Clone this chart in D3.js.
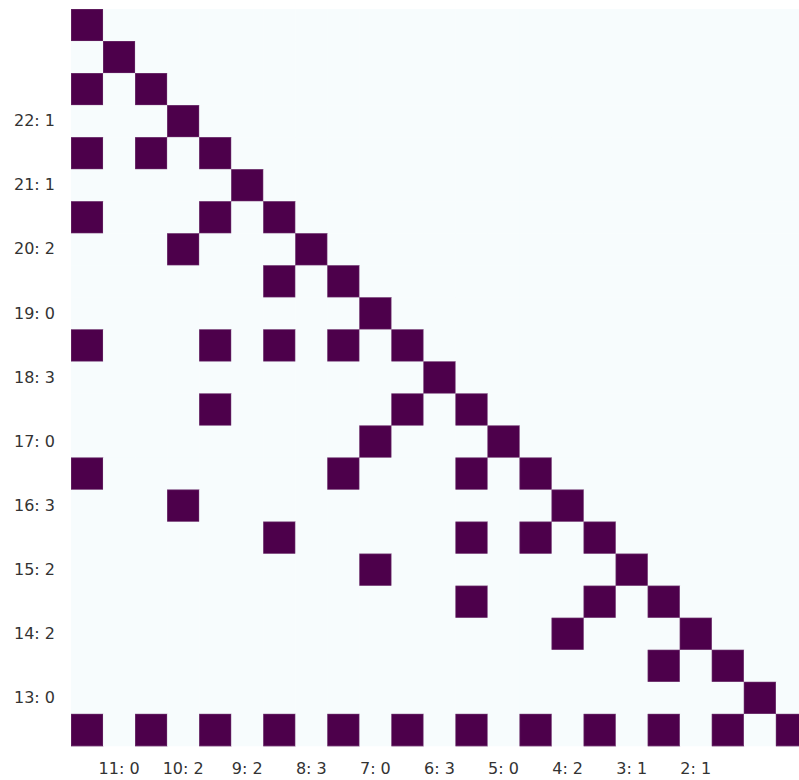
<!DOCTYPE html>
<html>
<head>
<meta charset="utf-8">
<script src="https://cdn.jsdelivr.net/npm/d3@7"></script>
<style>
  html, body { margin: 0; padding: 0; background: #ffffff; overflow: hidden; }
  svg { display: block; }
</style>
</head>
<body>
<svg id="chart" width="799" height="780"></svg>
<script>
// ---- data ----
const nRows = 23;
const nCols = 23;
// for each row (top to bottom): columns whose value is 1
const activeCols = [
  [0],
  [1],
  [0, 2],
  [3],
  [0, 2, 4],
  [5],
  [0, 4, 6],
  [3, 7],
  [6, 8],
  [9],
  [0, 4, 6, 8, 10],
  [11],
  [4, 10, 12],
  [9, 13],
  [0, 8, 12, 14],
  [3, 15],
  [6, 12, 14, 16],
  [9, 17],
  [12, 16, 18],
  [15, 19],
  [18, 20],
  [21],
  [0, 2, 4, 6, 8, 10, 12, 14, 16, 18, 20, 22]
];
const yTickRows   = [3, 5, 7, 9, 11, 13, 15, 17, 19, 21];
const yTickLabels = ["22: 1", "21: 1", "20: 2", "19: 0", "18: 3", "17: 0", "16: 3", "15: 2", "14: 2", "13: 0"];
const xTickCols   = [1, 3, 5, 7, 9, 11, 13, 15, 17, 19];
const xTickLabels = ["11: 0", "10: 2", "9: 2", "8: 3", "7: 0", "6: 3", "5: 0", "4: 2", "3: 1", "2: 1"];

// build matrix
const cells = [];
for (let r = 0; r < nRows; r++) {
  for (let c = 0; c < nCols; c++) {
    cells.push({ r, c, v: activeCols[r].includes(c) ? 1 : 0 });
  }
}

// ---- layout ----
const gridLeft = 71, gridTop = 9, step = 32.04;
const svg = d3.select("#chart");
const x = d3.scaleBand().domain(d3.range(nCols)).range([gridLeft, gridLeft + step * nCols]).paddingInner(0).paddingOuter(0);
const y = d3.scaleBand().domain(d3.range(nRows)).range([gridTop, gridTop + step * nRows]).paddingInner(0).paddingOuter(0);
const color = d3.scaleSequential(d3.interpolateBuPu).domain([0, 1]);

svg.append("g").selectAll("rect")
  .data(cells)
  .join("rect")
  .attr("x", d => x(d.c))
  .attr("y", d => y(d.r))
  .attr("width", x.bandwidth() + 0.4)
  .attr("height", y.bandwidth() + 0.4)
  .attr("fill", d => color(d.v));

// subtle lighter edge on filled cells, like the antialiased reference
svg.append("g").selectAll("rect")
  .data(cells.filter(d => d.v === 1))
  .join("rect")
  .attr("x", d => x(d.c) + 0.3)
  .attr("y", d => y(d.r) + 0.3)
  .attr("width", x.bandwidth() - 0.6)
  .attr("height", y.bandwidth() - 0.6)
  .attr("fill", "none")
  .attr("stroke", "#8a5a8a")
  .attr("stroke-opacity", 0.5)
  .attr("stroke-width", 0.6);

// ---- axes ----
const yAxis = d3.axisLeft(y)
  .tickValues(yTickRows)
  .tickFormat(d => yTickLabels[yTickRows.indexOf(d)])
  .tickSize(0)
  .tickPadding(16);
const gy = svg.append("g").attr("transform", `translate(${gridLeft},0)`).call(yAxis);

const xAxis = d3.axisBottom(x)
  .tickValues(xTickCols)
  .tickFormat(d => xTickLabels[xTickCols.indexOf(d)])
  .tickSize(0)
  .tickPadding(17);
const gx = svg.append("g").attr("transform", `translate(0,${gridTop + step * nRows})`).call(xAxis);

[gx, gy].forEach(g => {
  g.select(".domain").remove();
  g.selectAll("text")
    .attr("font-family", "DejaVu Sans, sans-serif")
    .attr("font-size", 16)
    .attr("fill", "#333333");
});
</script>
</body>
</html>
